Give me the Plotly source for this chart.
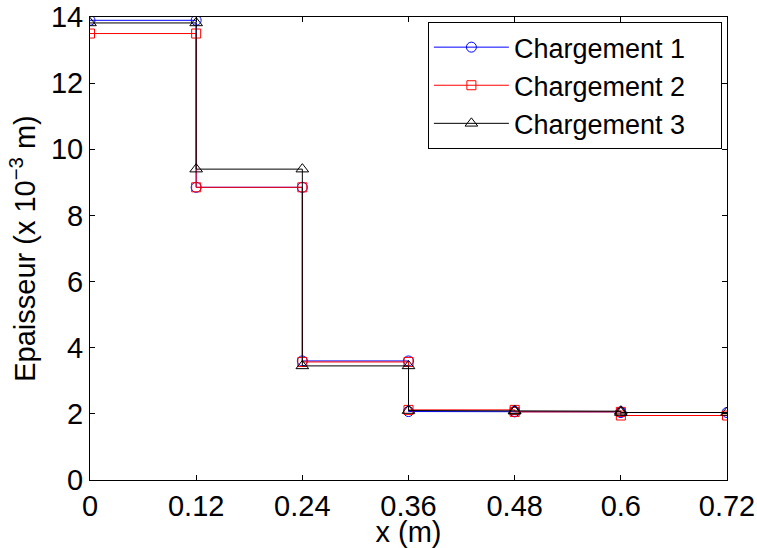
import plotly.graph_objects as go

# Segment boundaries along x (m)
x_edges = [0, 0.12, 0.24, 0.36, 0.48, 0.6, 0.72]
x_tick_labels = ["0", "0.12", "0.24", "0.36", "0.48", "0.6", "0.72"]
y_ticks = [0, 2, 4, 6, 8, 10, 12, 14]

# Thickness per segment (x 10^-3 m)
charge1 = [13.9, 8.85, 3.6, 2.07, 2.06, 2.04]
charge2 = [13.5, 8.85, 3.57, 2.12, 2.06, 1.95]
charge3 = [13.82, 9.4, 3.45, 2.1, 2.08, 2.04]

names = ["Chargement 1", "Chargement 2", "Chargement 3"]
colors = ["#0000FF", "#FF0000", "#000000"]
symbols = ["circle-open", "square-open", "triangle-up-open"]
sizes = [10, 9, 11]


def steps(vals):
    xs, ys = [], []
    for i, v in enumerate(vals):
        xs += [x_edges[i], x_edges[i + 1]]
        ys += [v, v]
    return xs, ys


fig = go.Figure()
for vals, name, c, s, sz in zip([charge1, charge2, charge3], names, colors, symbols, sizes):
    xs, ys = steps(vals)
    fig.add_trace(go.Scatter(
        x=xs, y=ys, name=name + "\u00a0" * 4, mode="lines+markers",
        line=dict(color=c, width=1),
        marker=dict(symbol=s, size=sz, color=c, line=dict(color=c, width=1)),
    ))

font = "Liberation Sans, Arial, Helvetica, sans-serif"
fig.update_layout(
    width=757, height=548,
    margin=dict(l=90, r=30, t=17, b=68, autoexpand=False),
    paper_bgcolor="white", plot_bgcolor="white",
    font=dict(family=font, size=29, color="black"),
    showlegend=True,
    legend=dict(
        x=0.992, y=0.989, xanchor="right", yanchor="top",
        bgcolor="white", bordercolor="black", borderwidth=1,
        font=dict(size=27), itemwidth=75,
        tracegroupgap=0,
    ),
    xaxis=dict(
        range=[0, 0.72], tickmode="array", tickvals=x_edges, ticktext=x_tick_labels,
        ticks="inside", ticklen=5, tickcolor="black", showline=True, linecolor="black",
        linewidth=1, mirror="ticks", showgrid=False, zeroline=False, automargin=False,
        title=dict(text="x (m)", font=dict(size=29), standoff=3),
        tickfont=dict(size=29),
    ),
    yaxis=dict(
        range=[0, 14], tickmode="array", tickvals=y_ticks,
        ticks="inside", ticklen=5, tickcolor="black", showline=True, linecolor="black",
        linewidth=1, mirror="ticks", showgrid=False, zeroline=False, automargin=False,
        title=dict(text="Epaisseur (x 10<sup>−3</sup> m)", font=dict(size=29), standoff=6),
        tickfont=dict(size=29),
    ),
)

fig.write_html("out.html", config={"displayModeBar": False},
               post_script="document.body.style.margin='0';")
